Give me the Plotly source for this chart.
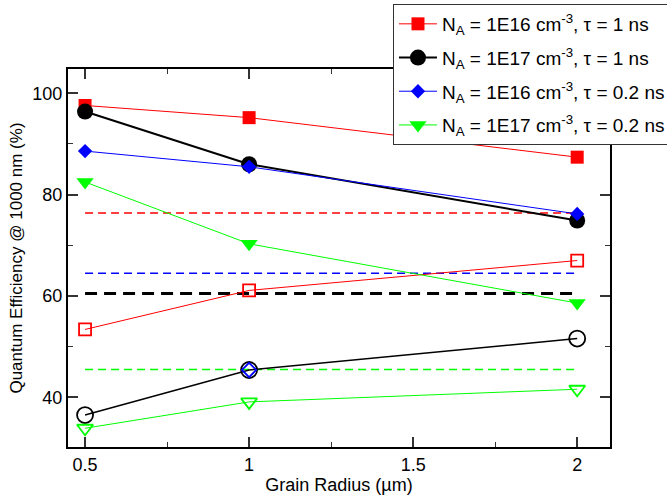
import plotly.graph_objects as go

# ---- data ----
grain_radius = [0.5, 1, 2]
qe_1e16_1ns = [97.6, 95.2, 87.4]
qe_1e17_1ns = [96.4, 86.0, 74.9]
qe_1e16_02ns = [88.6, 85.5, 76.2]
qe_1e17_02ns = [82.5, 70.3, 58.6]

qe_1e16_1ns_open = [53.4, 61.1, 67.0]
qe_1e17_1ns_open = [36.5, 45.4, 51.6]
qe_1e16_02ns_open = [None, 45.4, None]
qe_1e17_02ns_open = [33.9, 39.1, 41.6]

avg_x = [0.5, 2]
avg_1e16_1ns = [76.4, 76.4]
avg_1e17_1ns = [60.5, 60.5]
avg_1e16_02ns = [64.5, 64.5]
avg_1e17_02ns = [45.5, 45.5]

legend_names = [
    "N<sub>A</sub> = 1E16 cm<sup>-3</sup>, τ = 1 ns",
    "N<sub>A</sub> = 1E17 cm<sup>-3</sup>, τ = 1 ns",
    "N<sub>A</sub> = 1E16 cm<sup>-3</sup>, τ = 0.2 ns",
    "N<sub>A</sub> = 1E17 cm<sup>-3</sup>, τ = 0.2 ns",
]

RED, BLACK, BLUE, GREEN = "#ff0000", "#000000", "#0000ff", "#00ff00"
FONT = "Liberation Sans, Arial, sans-serif"

fig = go.Figure()

# dashed average lines
for ys, col, w, dash in [
    (avg_1e16_1ns, RED, 1.5, "8px,5px"),
    (avg_1e16_02ns, BLUE, 1.5, "8px,5px"),
    (avg_1e17_1ns, BLACK, 3, "12px,7px"),
    (avg_1e17_02ns, GREEN, 1.5, "8px,5px"),
]:
    fig.add_trace(go.Scatter(x=avg_x, y=ys, mode="lines", showlegend=False,
                             line=dict(color=col, width=w, dash=dash),
                             hoverinfo="skip"))

# open-marker series
for ys, col, sym, size, lw in [
    (qe_1e16_1ns_open, RED, "square-open", 12, 1),
    (qe_1e17_1ns_open, BLACK, "circle-open", 16, 1.5),
    (qe_1e16_02ns_open, BLUE, "diamond-open", 11, 1),
    (qe_1e17_02ns_open, GREEN, "triangle-down-open", 14, 1),
]:
    fig.add_trace(go.Scatter(x=grain_radius, y=ys, mode="lines+markers",
                             showlegend=False,
                             line=dict(color=col, width=lw),
                             marker=dict(symbol=sym, size=size, color=col,
                                         line=dict(color=col, width=1.8))))

# filled series
for i, (ys, col, sym, size, lw) in enumerate([
    (qe_1e16_1ns, RED, "square", 13, 1),
    (qe_1e17_1ns, BLACK, "circle", 16, 2),
    (qe_1e16_02ns, BLUE, "diamond", 11, 1),
    (qe_1e17_02ns, GREEN, "triangle-down", 15, 1),
]):
    fig.add_trace(go.Scatter(x=grain_radius, y=ys, mode="lines+markers",
                             name=legend_names[i], legendgroup=f"g{i}",
                             line=dict(color=col, width=lw),
                             marker=dict(symbol=sym, size=size, color=col)))

axis_common = dict(
    showline=True, linecolor="black", linewidth=2, mirror="ticks",
    ticks="inside", ticklen=10, tickwidth=1.5, tickcolor="#333",
    showgrid=False, zeroline=False,
    tickfont=dict(family=FONT, size=18, color="black"),
    minor=dict(ticks="inside", ticklen=5, tickwidth=1, tickcolor="#333", showgrid=False),
)

fig.update_layout(
    width=667, height=498,
    margin=dict(l=68, r=57, t=69, b=51, autoexpand=False),
    paper_bgcolor="white", plot_bgcolor="white",
    font=dict(family=FONT, size=18, color="black"),
    xaxis=dict(range=[0.448, 2.1], tickvals=[0.5, 1, 1.5, 2],
               ticktext=["0.5", "1", "1.5", "2"],
               title=dict(text="Grain Radius (µm)", standoff=3,
                          font=dict(size=18)),
               **axis_common),
    yaxis=dict(range=[30.2, 104.8], tickvals=[40, 60, 80, 100],
               title=dict(text="Quantum Efficiency @ 1000 nm (%)", standoff=5,
                          font=dict(size=17)),
               **axis_common),
    legend=dict(x=0.5996, y=1.172, xanchor="left", yanchor="top",
                bgcolor="white", bordercolor="#333", borderwidth=1,
                font=dict(size=19), traceorder="grouped", tracegroupgap=6,
                itemwidth=38),
    showlegend=True,
)
fig.update_xaxes(minor=dict(dtick=0.25, tick0=0.5))
fig.update_yaxes(minor=dict(dtick=10, tick0=30))

fig.write_html("out.html")
